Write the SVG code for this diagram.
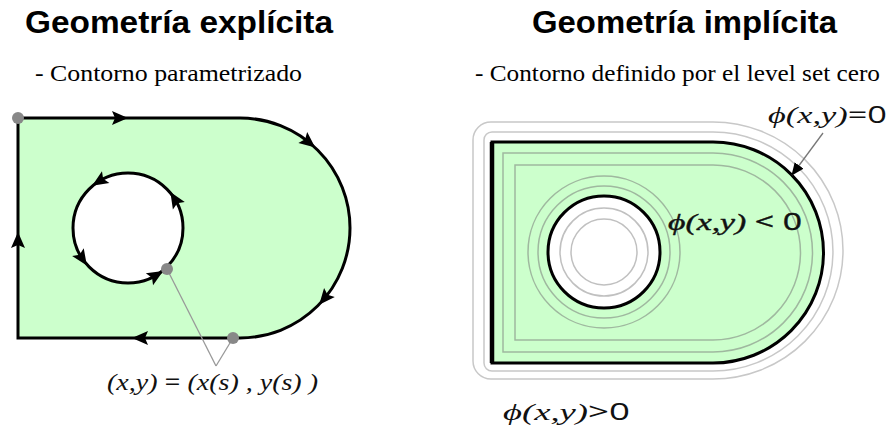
<svg xmlns="http://www.w3.org/2000/svg" width="890" height="432" viewBox="0 0 890 432">
<style>
.title{font-family:"Liberation Sans",Arial,sans-serif;font-weight:bold;font-size:31px;fill:#000}
.sub{font-family:"Liberation Serif","Times New Roman",serif;font-size:24px;fill:#000}
.math{font-family:"Liberation Serif","DejaVu Serif",serif;font-style:italic;font-size:24px;fill:#111}
.up{font-family:"Open Sans","DejaVu Sans",sans-serif;font-style:normal}
.edge{fill:none;stroke:#000;stroke-width:3}
.green{fill:#ccffcc}
.lvl-in{fill:none;stroke:#9fb89f;stroke-width:1.5}
.lvl-out{fill:none;stroke:#c8c8c8;stroke-width:1.5}
.lvl-hole{fill:none;stroke:#c0c0c0;stroke-width:1.5}
.dot{fill:#888}
.ptr{stroke:#999;stroke-width:1.3;fill:none}
</style>
<defs>
<path id="ah" d="M8,0 L-8,-7 L-5,0 L-8,7 Z" fill="#000"/>
<marker id="tip" viewBox="0 0 12 10" refX="11" refY="5" markerWidth="13" markerHeight="11" markerUnits="userSpaceOnUse" orient="auto">
<path d="M0,0 L12,5 L0,10 Z" fill="#000"/>
</marker>
</defs>

<text class="title" x="25" y="33" textLength="308" lengthAdjust="spacingAndGlyphs">Geometría explícita</text>
<text class="title" x="532" y="33" textLength="305" lengthAdjust="spacingAndGlyphs">Geometría implícita</text>
<text class="sub" x="35" y="81" textLength="267" lengthAdjust="spacingAndGlyphs">- Contorno parametrizado</text>
<text class="sub" x="475" y="81" textLength="405" lengthAdjust="spacingAndGlyphs">- Contorno definido por el level set cero</text>

<g id="explicit">
<path class="green" d="M18,118 H240 A110,110 0 0 1 240,338 H18 Z"/>
<circle cx="128" cy="228" r="55" fill="#fff"/>
<path class="edge" d="M18,118 H240 A110,110 0 0 1 240,338 H18 Z"/>
<circle class="edge" cx="128" cy="228" r="55" stroke-width="2.5"/>
<use href="#ah" transform="translate(120,118)"/>
<use href="#ah" transform="translate(309,142.5) rotate(39)"/>
<use href="#ah" transform="translate(324.3,298.7) rotate(130)"/>
<use href="#ah" transform="translate(140,338) rotate(180)"/>
<use href="#ah" transform="translate(18,240) rotate(-90)"/>
<use href="#ah" transform="translate(98.9,181.4) rotate(148)"/>
<use href="#ah" transform="translate(174.6,198.9) rotate(-122)"/>
<use href="#ah" transform="translate(82.4,258.8) rotate(56)"/>
<use href="#ah" transform="translate(156.3,275.1) rotate(-31)"/>
<line class="ptr" x1="167" y1="269" x2="216" y2="366"/>
<line class="ptr" x1="233" y1="338" x2="216" y2="366"/>
<circle class="dot" cx="18" cy="118" r="6"/>
<circle class="dot" cx="167" cy="269" r="6"/>
<circle class="dot" cx="233" cy="338" r="6"/>
<text class="math" x="107" y="390" font-size="22" textLength="211" lengthAdjust="spacingAndGlyphs">(x,y) <tspan class="up">=</tspan> (x(s) , y(s) )</text>
</g>

<g id="implicit">
<path class="lvl-out" d="M491,122 H713 A130,128.5 0 0 1 713,379 H491 A18,18 0 0 1 473,361 V140 A18,18 0 0 1 491,122 Z"/>
<path class="lvl-out" d="M492,132 H713 A120,119.5 0 0 1 713,371 H492 A8,8 0 0 1 484,363 V140 A8,8 0 0 1 492,132 Z"/>
<path class="green" d="M492,142 H713 A110.5,110.5 0 0 1 713,363 H492 Z"/>
<path class="lvl-in" d="M503,153 H713 A99.5,99.5 0 0 1 713,352 H503 Z"/>
<path class="lvl-in" d="M515,165 H713 A87.5,87.5 0 0 1 713,340 H515 Z"/>
<circle class="lvl-in" cx="604" cy="252" r="76"/>
<circle class="lvl-in" cx="604" cy="252" r="66"/>
<circle cx="604" cy="252" r="56" fill="#fff" stroke="#000" stroke-width="3"/>
<circle class="lvl-hole" cx="604" cy="252" r="44"/>
<circle class="lvl-hole" cx="604" cy="252" r="33"/>
<path class="edge" d="M492,142 H713 A110.5,110.5 0 0 1 713,363 H492 Z"/>
<line x1="492" y1="142" x2="492" y2="363" stroke="#000" stroke-width="4.5"/>
<text class="math" x="668" y="230" textLength="134" lengthAdjust="spacingAndGlyphs" stroke="#111" stroke-width="0.4">ϕ(x,y) <tspan class="up">&lt;  0</tspan></text>
</g>

<g id="connectors">
<line x1="823" y1="133" x2="792" y2="175" stroke="#777" stroke-width="1.3" marker-end="url(#tip)"/>
</g>

<text class="math" x="768" y="123" textLength="119" lengthAdjust="spacingAndGlyphs">ϕ(x,y)<tspan class="up">=0</tspan></text>
<text class="math" x="503" y="420" textLength="127" lengthAdjust="spacingAndGlyphs">ϕ(x,y)<tspan class="up">&gt;0</tspan></text>
</svg>
